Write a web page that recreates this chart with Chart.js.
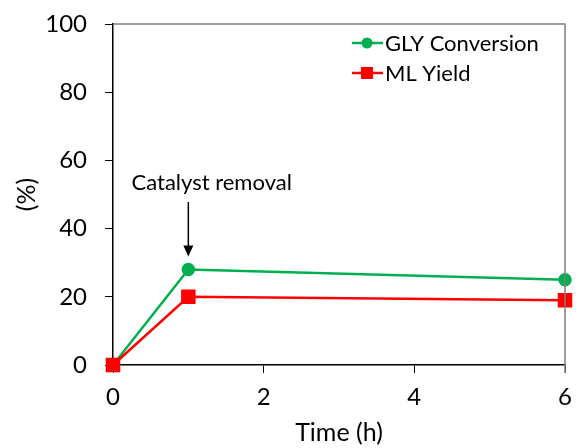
<!DOCTYPE html>
<html>
<head>
<meta charset="utf-8">
<script src="https://cdn.jsdelivr.net/npm/chart.js@4/dist/chart.umd.min.js"></script>
<style>
  html, body { margin: 0; padding: 0; background: #fff; }
  #wrap { width: 576px; height: 448px; }
</style>
</head>
<body>
<div id="wrap"><canvas id="chart" width="576" height="448"></canvas></div>
<script>
const timeHours = [0, 1, 6]
const glyConversion = [0, 28, 25]
const mlYield = [0, 20, 19]
const seriesNames = ['GLY Conversion', 'ML Yield']
const noteText = 'Catalyst removal'

const FONT = 'Lato, "Open Sans", sans-serif'

const toPoints = (xs, ys) => xs.map((x, i) => ({ x, y: ys[i] }))

// frame, arrow note and legend with line + marker
const extras = {
  id: 'extras',
  afterDraw(chart) {
    const { ctx, chartArea: a, scales } = chart
    const xs = scales.x, ys = scales.y
    ctx.save()

    // top + right frame in grey
    ctx.strokeStyle = '#7f7f7f'
    ctx.lineWidth = 1.5
    ctx.beginPath()
    ctx.moveTo(a.left, a.top)
    ctx.lineTo(a.right, a.top)
    ctx.lineTo(a.right, a.bottom + 8)
    ctx.stroke()

    // annotation
    const ax = xs.getPixelForValue(1)
    ctx.fillStyle = '#000'
    ctx.font = '22px ' + FONT
    ctx.textAlign = 'center'
    ctx.textBaseline = 'middle'
    ctx.fillText(noteText, xs.getPixelForValue(1.31), ys.getPixelForValue(53.5))

    const yTop = ys.getPixelForValue(47.8)
    const yTip = ys.getPixelForValue(31.8)
    ctx.strokeStyle = '#000'
    ctx.lineWidth = 1.5
    ctx.beginPath()
    ctx.moveTo(ax, yTop)
    ctx.lineTo(ax, yTip - 8)
    ctx.stroke()
    ctx.beginPath()
    ctx.moveTo(ax - 5, yTip - 11)
    ctx.lineTo(ax + 5, yTip - 11)
    ctx.lineTo(ax, yTip)
    ctx.closePath()
    ctx.fill()

    // legend
    const rows = [43, 73]
    chart.data.datasets.forEach((ds, i) => {
      const y = rows[i]
      ctx.strokeStyle = ds.borderColor
      ctx.lineWidth = 2.5
      ctx.beginPath()
      ctx.moveTo(352, y)
      ctx.lineTo(383, y)
      ctx.stroke()
      ctx.fillStyle = ds.backgroundColor
      if (ds.pointStyle === 'rect') {
        ctx.fillRect(361, y - 6, 12, 12)
      } else {
        ctx.beginPath()
        ctx.arc(367, y, 5.5, 0, Math.PI * 2)
        ctx.fill()
      }
      ctx.fillStyle = '#000'
      ctx.font = '22px ' + FONT
      ctx.textAlign = 'left'
      ctx.textBaseline = 'middle'
      ctx.fillText(ds.label, 385, y + 1)
    })

    ctx.restore()
  }
}

new Chart(document.getElementById('chart'), {
  type: 'line',
  data: {
    datasets: [
      {
        label: seriesNames[0],
        data: toPoints(timeHours, glyConversion),
        borderColor: '#00B050',
        backgroundColor: '#00B050',
        borderWidth: 2.5,
        pointStyle: 'circle',
        pointRadius: 5.5,
        pointHoverRadius: 5.5,
        clip: false,
        order: 1
      },
      {
        label: seriesNames[1],
        data: toPoints(timeHours, mlYield),
        borderColor: '#FF0000',
        backgroundColor: '#FF0000',
        borderWidth: 2.5,
        pointStyle: 'rect',
        pointRadius: 8.5,
        pointHoverRadius: 8.5,
        clip: false,
        order: 0
      }
    ]
  },
  options: {
    responsive: false,
    animation: false,
    layout: { padding: { top: 24, right: 9, left: 0, bottom: 0 } },
    plugins: {
      legend: { display: false },
      tooltip: { enabled: false }
    },
    scales: {
      x: {
        type: 'linear',
        min: 0,
        max: 6,
        afterFit: (s) => { s.height = 83; s.paddingLeft = 0; s.paddingRight = 0 },
        ticks: { stepSize: 2, color: '#000', font: { family: FONT, size: 24 }, padding: 10 },
        grid: { display: true, drawOnChartArea: false, drawTicks: true, tickLength: 8, color: '#000' },
        border: { display: true, color: '#000', width: 1.5 },
        title: { display: true, text: 'Time (h)', color: '#000', font: { family: FONT, size: 25 }, padding: { top: 0, bottom: 0 } }
      },
      y: {
        min: 0,
        max: 100,
        afterFit: (s) => { s.width = 113; s.paddingTop = 0; s.paddingBottom = 0 },
        ticks: { stepSize: 20, color: '#000', font: { family: FONT, size: 24 }, padding: 18 },
        grid: { display: true, drawOnChartArea: false, drawTicks: true, tickLength: 8, color: '#000' },
        border: { display: true, color: '#000', width: 1.5 },
        title: { display: true, text: '(%)', color: '#000', font: { family: FONT, size: 25 }, padding: { top: 12, bottom: 0 } }
      }
    }
  },
  plugins: [extras]
})
</script>
</body>
</html>
